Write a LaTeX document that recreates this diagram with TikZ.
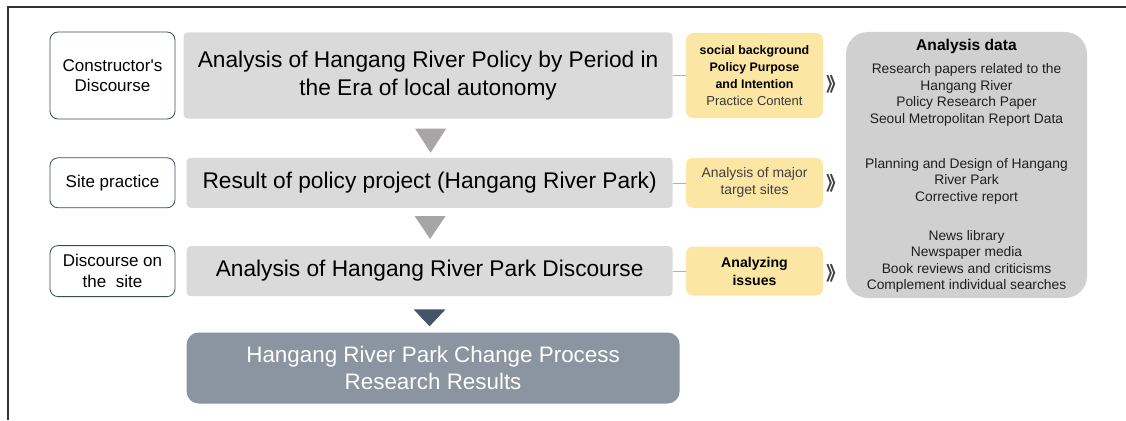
\documentclass[tikz,border=0pt]{standalone}
\usepackage{fontspec}
\setmainfont{Liberation Sans}
\newfontfamily\cjk{Noto Sans CJK KR}
\usetikzlibrary{positioning}

\definecolor{framegrey}{HTML}{333333}
\definecolor{boxline}{HTML}{3D4B5C}
\definecolor{stepgrey}{HTML}{DADADA}
\definecolor{notegold}{HTML}{FCE6A4}
\definecolor{datagrey}{HTML}{D1D0D1}
\definecolor{resultblue}{HTML}{8B94A1}
\definecolor{trigrey}{HTML}{A7A5A6}
\definecolor{tridark}{HTML}{46546A}

\begin{document}
\begin{tikzpicture}[x=1pt,y=1pt,
    side node/.style={draw=boxline,line width=0.8pt,rounded corners=8pt,fill=white,
      minimum width=125pt,align=center,inner sep=0pt,text=black,
      font=\fontsize{17}{20.5}\selectfont},
    stage node/.style={fill=stepgrey,rounded corners=4pt,align=center,inner sep=0pt,
      text=black,font=\fontsize{22.7}{27.5}\selectfont},
    note node/.style={fill=notegold,rounded corners=7pt,minimum width=137pt,align=center,
      inner sep=0pt,font=\fontsize{12.4}{17}\selectfont\bfseries},
    data node/.style={fill=datagrey,rounded corners=22pt,minimum width=241pt,
      minimum height=266pt,inner sep=0pt},
    data text/.style={align=center,inner sep=0pt,text=black!88,
      font=\fontsize{13.8}{16.4}\selectfont},
    result node/.style={fill=resultblue,rounded corners=12pt,align=center,inner sep=0pt,
      text=white,font=\fontsize{22.4}{27}\selectfont},
    link/.style={draw=black!30,line width=0.6pt},
    chev/.style={inner sep=0pt,text=black!75,font=\cjk\bfseries\fontsize{19}{19}\selectfont}]

  \useasboundingbox (0,0) rectangle (1126,-420);
  \draw[framegrey,line width=1.3pt] (1126,-7) -- (8,-7) -- (8,-420);

  % left column
  \node[side node,minimum height=87pt] (l1) at (112.5,-75.5)
    {Constructor\textquotesingle s\\Discourse};
  \node[side node,minimum height=50pt] (l2) [below=38pt of l1] {Site practice};
  \node[side node,minimum height=51pt] (l3) [below=37pt of l2] {Discourse on\\the~ site};

  % main steps
  \node[stage node,minimum width=489pt,minimum height=86pt] (m1) [right=8pt of l1]
    {Analysis of Hangang River Policy by Period in\\the Era of local autonomy};
  \node[stage node,minimum width=486pt,minimum height=50pt] (m2) [right=11pt of l2]
    {Result of policy project (Hangang River Park)};
  \node[stage node,minimum width=486pt,minimum height=50pt] (m3) [right=11pt of l3]
    {Analysis of Hangang River Park Discourse};
  \node[result node,minimum width=493pt,minimum height=71pt] (res)
    [below=36pt of m3.south west,anchor=north west]
    {Hangang River Park Change Process\\Research Results};

  \fill[trigrey] ([xshift=-13pt,yshift=-10pt]m1.south) -- ++(31,0) -- ++(-15.5,-24) -- cycle;
  \fill[trigrey] ([xshift=-15pt,yshift=-8pt]m2.south) -- ++(31,0) -- ++(-15.5,-23) -- cycle;
  \fill[tridark] ([xshift=-16pt,yshift=-13pt]m3.south) -- ++(32,0) -- ++(-16,-17) -- cycle;

  % notes
  \node[note node,minimum height=85pt] (y1) [right=13pt of m1]
    {social background\\Policy Purpose\\and Intention\\%
     {\mdseries\fontsize{13}{17}\selectfont\color{black!78}Practice Content}};
  \node[note node,minimum height=50pt,font=\fontsize{13.9}{17}\selectfont,text=black!75] (y2)
    [right=13pt of m2] {Analysis of major\\target sites};
  \node[note node,minimum height=49pt,font=\fontsize{14.1}{18}\selectfont\bfseries] (y3)
    [right=13pt of m3] {Analyzing\\issues};

  \path[link] (m1) edge (y1)
              (m2) edge (y2)
              (m3) edge (y3);

  \node[chev] (c1) [right=3pt of y1,yshift=-9pt] {》};
  \node[chev] (c2) [right=3pt of y2] {》};
  \node[chev] (c3) [right=3pt of y3,yshift=-2pt] {》};

  % analysis data
  \node[data node] (data) at (966.5,-165) {};
  \node[data text,font=\fontsize{15.6}{18}\selectfont\bfseries,text=black] (dt)
    [below=7pt of data.north] {Analysis data};
  \node[data text] (d1) [below=10pt of dt]
    {Research papers related to the\\Hangang River\\Policy Research Paper\\Seoul Metropolitan Report Data};
  \node[data text] (d2) [below=32pt of d1]
    {Planning and Design of Hangang\\River Park\\Corrective report};
  \node[data text] (d3) [below=26pt of d2]
    {News library\\Newspaper media\\Book reviews and criticisms\\Complement individual searches};
\end{tikzpicture}
\end{document}
